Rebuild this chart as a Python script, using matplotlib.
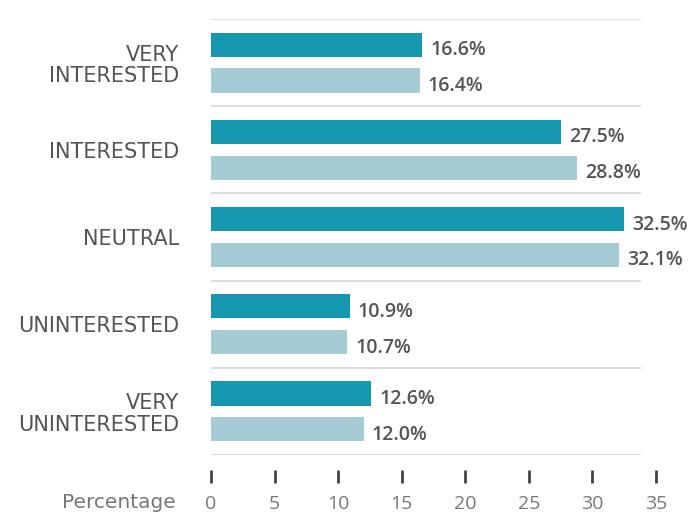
import matplotlib.pyplot as plt
from matplotlib.ticker import FixedLocator

categories = ["VERY\nINTERESTED", "INTERESTED", "NEUTRAL", "UNINTERESTED", "VERY\nUNINTERESTED"]
series_a = [16.6, 27.5, 32.5, 10.9, 12.6]
series_b = [16.4, 28.8, 32.1, 10.7, 12.0]
x_ticks = [0, 5, 10, 15, 20, 25, 30, 35]

dark = "#1697b0"
light = "#a5cbd5"
text_col = "#555555"

plt.rcParams["font.family"] = ["Open Sans", "DejaVu Sans"]

fig = plt.figure(figsize=(6.91, 5.14), dpi=100)
ax = fig.add_axes([211 / 691, 59 / 514, 445 / 691, 436 / 514])

h = 0.276
for i, (a, b) in enumerate(zip(series_a, series_b)):
    ax.barh(i + 0.295, a, height=h, color=dark)
    ax.barh(i + 0.705, b, height=h, color=light)
    ax.annotate(f"{a:.1f}%", (a, i + 0.295), xytext=(6, -4), textcoords="offset points",
                ha="left", va="center", fontsize=14, fontweight="semibold", color=text_col)
    ax.annotate(f"{b:.1f}%", (b, i + 0.705), xytext=(6, -4), textcoords="offset points",
                ha="left", va="center", fontsize=14, fontweight="semibold", color=text_col)

# separators between groups
ax.hlines(range(len(categories) + 1), 0, 33.8, color="#dddddd", lw=1.5, zorder=0)

ax.set_xlim(0, 35)
ax.set_ylim(len(categories), 0)

ax.set_yticks([i + 0.5 for i in range(len(categories))])
ax.set_yticklabels(categories, fontsize=15, color=text_col, linespacing=1.1,
                   family="DejaVu Sans")
ax.tick_params(axis="y", length=0, pad=23)

ax.xaxis.set_major_locator(FixedLocator(x_ticks))
ax.set_xticklabels([str(t) for t in x_ticks], family="DejaVu Sans")
ax.tick_params(axis="x", direction="out", length=9, width=2, color="#444444", pad=9,
               labelsize=14, labelcolor="#777777")

for s in ax.spines.values():
    s.set_visible(False)
ax.spines["bottom"].set_position(("outward", 11))

fig.text(176 / 691, 1 - 503 / 514, "Percentage", ha="right", va="center",
         fontsize=14.5, color="#777777", family="DejaVu Sans")

fig.savefig("out.png", dpi=100)
